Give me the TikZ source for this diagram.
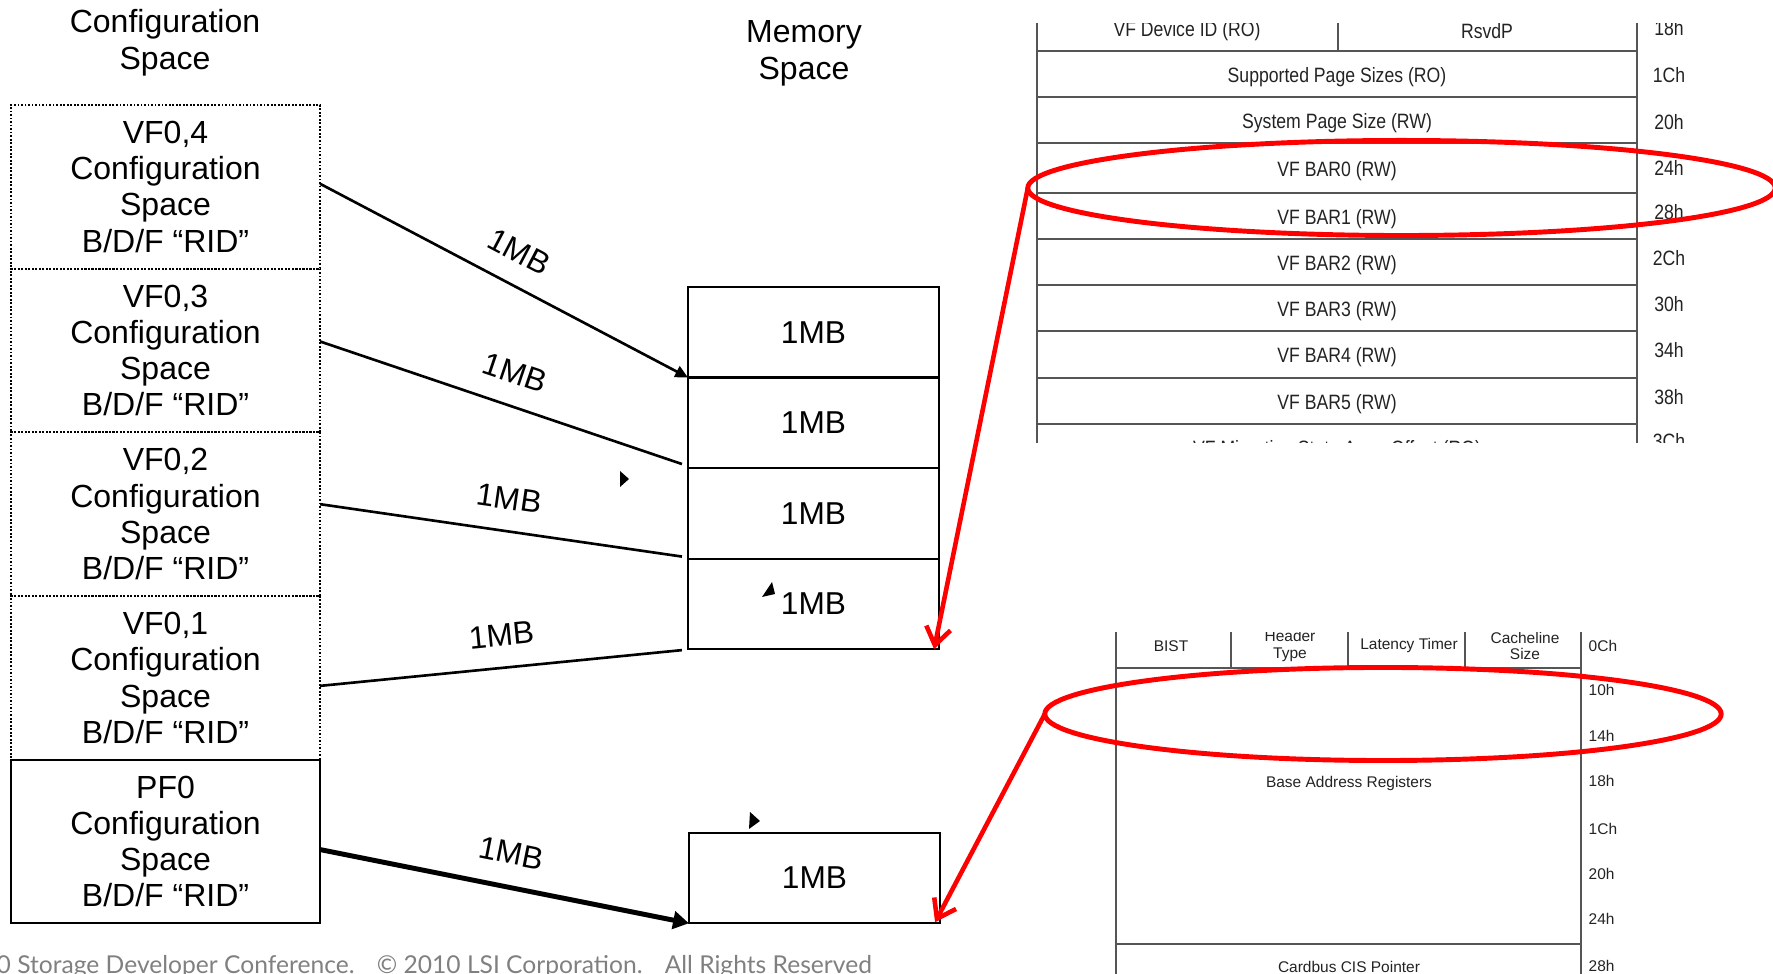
\documentclass[tikz,border=0pt]{standalone}
\usepackage{fontspec}
\setmainfont{Liberation Sans}
\newfontfamily\narrowfont[FakeStretch=0.85]{Liberation Sans}
\newfontfamily\footfont{Lato}
\usetikzlibrary{positioning}
\usetikzlibrary{calc}
\usetikzlibrary{shapes.geometric}
\usetikzlibrary{arrows.meta}
\definecolor{rulegray}{RGB}{85,85,85}
\definecolor{inkgray}{RGB}{35,35,35}
\definecolor{footgray}{RGB}{128,128,128}
\tikzset{%
  cfg/.style = {rectangle,draw,line width=0.6pt,dash pattern=on 0.5pt off 0.5pt,
        minimum width=3.09cm,minimum height=1.636cm,outer sep=0pt,
        align=center,font=\fontsize{9.1}{10.3}\selectfont},
  pf/.style = {cfg,solid},
  mem/.style = {rectangle,draw,line width=0.6pt,minimum width=2.51cm,
        minimum height=0.905cm,outer sep=0pt,font=\fontsize{9}{10}\selectfont},
  title/.style = {align=center,font=\fontsize{9.1}{10.5}\selectfont},
  sz/.style = {font=\fontsize{9}{10}\selectfont,sloped,above=2.5pt},
  maparrow/.style = {line width=0.75pt},
  bigarrow/.style = {line width=1.4pt,-{Triangle[length=4.5pt,width=5pt]}},
  ring/.style = {ellipse,draw=red,line width=1.4pt,inner sep=0pt,outer sep=0pt},
  zoomarrow/.style = {red,line width=1.3pt,-{Straight Barb[length=5pt,width=7pt]}},
  reg/.style = {rulegray,line width=0.7pt},
  regtext/.style = {inkgray,font=\narrowfont\fontsize{5.9}{6.5}\selectfont},
  hdr/.style = {rulegray,line width=0.45pt},
  hdrtext/.style = {inkgray,align=center,font=\fontsize{4.4}{4.6}\selectfont},
  foot/.style = {footgray,font=\footfont\fontsize{7}{8}\selectfont,inner sep=0pt}
}

\begin{document}
\begin{tikzpicture}[x=0.01cm,y=-0.01cm]
    \path[use as bounding box] (0,0) rectangle (1773,974);
    \clip (0,0) rectangle (1773,974);

    % SR-IOV capability, VF BAR block
    \begin{scope}
      \clip (1000,24) rectangle (1773,443);
      \draw[reg] (1037,0) -- (1037,470);
      \draw[reg] (1637,0) -- (1637,470);
      \draw[reg] (1338,0) -- (1338,51);
      \foreach \y in {51,97,143,193,239,285,331,378,424}
        \draw[reg] (1037,\y) -- (1637,\y);
      \node[regtext] at (1187,31) {VF Device ID (RO)};
      \node[regtext] at (1487,31) {RsvdP};
      \foreach \y/\t in {77/Supported Page Sizes (RO),123/System Page Size (RW),
          171/VF BAR0 (RW),219/VF BAR1 (RW),265/VF BAR2 (RW),311/VF BAR3 (RW),
          357/VF BAR4 (RW),404/VF BAR5 (RW),450/VF Migration State Array Offset (RO)}
        \node[regtext] at (1337,\y) {\t};
      \foreach \y/\t in {28/18h,75/1Ch,122/20h,168/24h,212/28h,258/2Ch,
          304/30h,350/34h,397/38h,441/3Ch}
        \node[regtext] at (1669,\y) {\t};
    \end{scope}

    % type 0 header, BAR block
    \begin{scope}
      \clip (1090,633) rectangle (1773,974);
      \draw[hdr] (1116,600) -- (1116,990);
      \draw[hdr] (1581,600) -- (1581,990);
      \foreach \x in {1231,1348,1465}
        \draw[hdr] (\x,600) -- (\x,668);
      \draw[hdr] (1116,668) -- (1581,668);
      \draw[hdr] (1116,944) -- (1581,944);
      \node[hdrtext] at (1171,646) {BIST};
      \node[hdrtext] at (1290,646) {Header\\Type};
      \node[hdrtext] at (1409,646) {Latency Timer};
      \node[hdrtext] at (1525,646) {Cacheline\\Size};
      \node[hdrtext] at (1349,784) {Base Address Registers};
      \node[hdrtext] at (1349,967) {Cardbus CIS Pointer};
      \foreach \y/\t in {646/0Ch,690/10h,736/14h,781/18h,829/1Ch,874/20h,
          919/24h,966/28h}
        \node[hdrtext,anchor=west,inner sep=0pt] at (1588,\y) {\t};
    \end{scope}

    \node[title] (cfgtitle) at (165,43) {Configuration\\Space};
    \node[title] (memtitle) at (804,53.5) {Memory\\Space};

    \node[cfg] (vf04) at (165.5,186.8) {VF0,4\\Configuration\\Space\\B/D/F “RID”};
    \node[cfg] (vf03) [below=0pt of vf04] {VF0,3\\Configuration\\Space\\B/D/F “RID”};
    \node[cfg] (vf02) [below=0pt of vf03] {VF0,2\\Configuration\\Space\\B/D/F “RID”};
    \node[cfg] (vf01) [below=0pt of vf02] {VF0,1\\Configuration\\Space\\B/D/F “RID”};
    \node[pf] (pf0) [below=0pt of vf01] {PF0\\Configuration\\Space\\B/D/F “RID”};

    \node[mem] (mem1) at (813.5,332.2) {1MB};
    \node[mem] (mem2) [below=0pt of mem1] {1MB};
    \node[mem] (mem3) [below=0pt of mem2] {1MB};
    \node[mem] (mem4) [below=0pt of mem3] {1MB};
    \node[mem] (mem5) at (814.5,878) {1MB};

    \draw[maparrow,-{Triangle[length=3.6pt,width=3.4pt]}]
        ($(vf04.east)+(0,-3)$) -- (mem1.south west) node[sz,pos=0.5] {1MB};
    \draw[maparrow] ($(vf03.east)+(0,-9)$) -- ($(mem2.south west)+(-6,-4)$)
        node[sz,pos=0.51] {1MB};
    \draw[maparrow] ($(vf02.east)+(0,-10)$) -- ($(mem3.south west)+(-6,-2)$)
        node[sz,pos=0.51] {1MB};
    \draw[maparrow] ($(vf01.east)+(0,8)$) -- ($(mem4.south west)+(-6,1)$)
        node[sz,pos=0.51] {1MB};
    \draw[bigarrow] ($(pf0.east)+(0,8)$) -- (mem5.south west)
        node[sz,pos=0.5] {1MB};

    % loose arrow tips
    \fill (620,471) -- (629,479) -- (620,487) -- cycle;
    \fill (772,582) -- (762,597) -- (775,594) -- cycle;
    \fill (750,812) -- (760,821) -- (749,829) -- cycle;

    \node[ring,minimum width=7.47cm,minimum height=0.95cm] (vfbars) at (1401.5,188) {};
    \node[ring,minimum width=6.76cm,minimum height=0.93cm] (pfbars) at (1383,714) {};
    \draw[zoomarrow] (vfbars.west) -- ($(mem4.south east)+(-5,0)$);
    \draw[zoomarrow] (pfbars.west) -- ($(mem5.south east)+(-5,-1)$);

    \node[foot,anchor=base west] (footer) at (-4,974)
        {0 Storage Developer Conference.\hspace{0.9em}© 2010 LSI Corporation.\hspace{0.9em}All Rights Reserved};
\end{tikzpicture}
\end{document}
